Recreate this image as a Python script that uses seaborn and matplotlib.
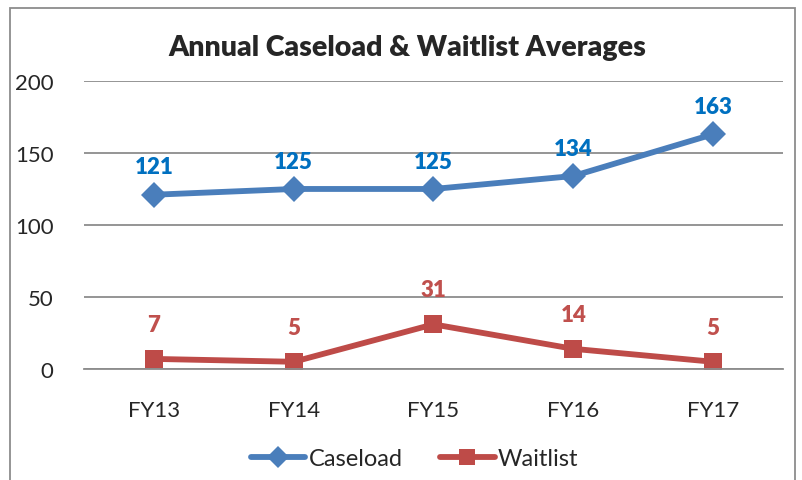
import matplotlib
matplotlib.use("Agg")
import matplotlib.pyplot as plt
import seaborn as sns
import pandas as pd
from matplotlib.patches import Rectangle

years = ["FY13", "FY14", "FY15", "FY16", "FY17"]
caseload = [121, 125, 125, 134, 163]
waitlist = [7, 5, 31, 14, 5]

df = pd.DataFrame({
    "year": years * 2,
    "value": caseload + waitlist,
    "series": ["Caseload"] * 5 + ["Waitlist"] * 5,
})

sns.set_style("white")
plt.rcParams["font.family"] = ["Lato", "DejaVu Sans"]

line_colors = {"Caseload": "#4A7EBB", "Waitlist": "#BE4B48"}
label_colors = {"Caseload": "#0070C0", "Waitlist": "#C0504D"}

fig = plt.figure(figsize=(8.02, 4.81), dpi=100)
ax = fig.add_axes([0.1047, 0.2308, 0.8716, 0.5988])

sns.lineplot(data=df, x="year", y="value", hue="series", style="series",
             markers={"Caseload": "D", "Waitlist": "s"}, dashes=False,
             palette=line_colors, linewidth=4.2, markersize=13,
             markeredgewidth=0, ax=ax, sort=False)

ax.set_xlim(-0.5, 4.5)
ax.set_ylim(0, 200)
ax.set_yticks([0, 50, 100, 150, 200])
ax.yaxis.grid(True, color="#8C8C8C", linewidth=1.3)
ax.set_axisbelow(True)
for s in ["top", "right", "left"]:
    ax.spines[s].set_visible(False)
ax.spines["bottom"].set_color("#8C8C8C")
ax.spines["bottom"].set_linewidth(1.3)
ax.tick_params(axis="y", length=0, pad=22, labelsize=16)
ax.tick_params(axis="x", length=0, pad=22, labelsize=16)
ax.set_xlabel("")
ax.set_ylabel("")

for name, vals, off in [("Caseload", caseload, 20), ("Waitlist", waitlist, 25)]:
    for i, v in enumerate(vals):
        ax.annotate(str(v), (i, v), xytext=(0, off), textcoords="offset points",
                    ha="center", va="center", fontsize=16, fontweight="heavy",
                    color=label_colors[name])

fig.text(0.508, 0.90, "Annual Caseload & Waitlist Averages", ha="center",
         va="center", fontsize=20.5, fontweight="heavy")

handles, labels = ax.get_legend_handles_labels()
ax.legend(handles, labels, loc="center", ncol=2, frameon=False, fontsize=17,
          handlelength=2.3, columnspacing=1.6, handletextpad=0.15,
          bbox_to_anchor=(0.517, 0.045), bbox_transform=fig.transFigure)
for h in ax.get_legend().legend_handles:
    h.set_markersize(11)

fig.patches.append(Rectangle((10 / 802, -0.05), 785 / 802, 1.05 - 9 / 481,
                             transform=fig.transFigure, fill=False,
                             edgecolor="#8C8C8C", linewidth=1.3))

fig.savefig("out.png", dpi=100)
